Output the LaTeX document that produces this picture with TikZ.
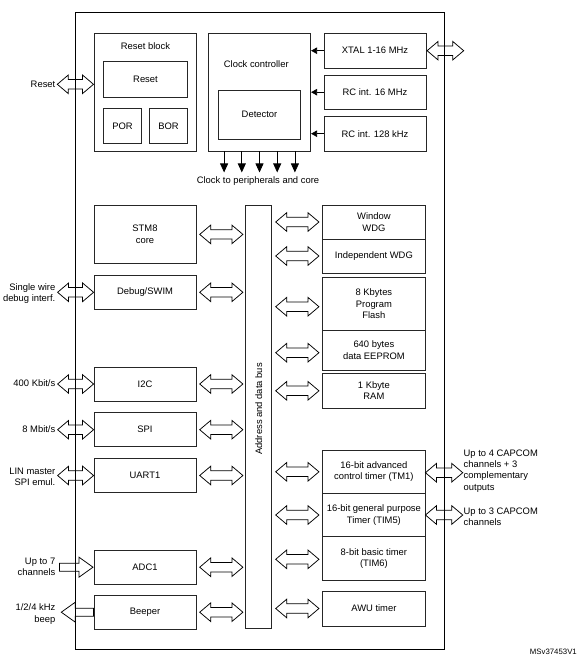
\documentclass[tikz,border=0pt]{standalone}
\usepackage{fontspec}
\setmainfont{Liberation Sans}
\usetikzlibrary{calc,arrows.meta}
\newcommand\arrHL{11pt}
\newcommand\arrHH{9.3pt}
\newcommand\arrSH{4.7pt}
\newcommand\sarrHL{14pt}
\newcommand\sarrHH{10pt}
\newcommand\sarrSH{4pt}
% double block arrow between two points (horizontal)
\newcommand\dblarr[2]{\draw[blk] let \p1=(#1), \p2=(#2), \p3=($(\p1)!\arrHL!(\p2)$), \p4=($(\p2)!\arrHL!(\p1)$) in
  (\x1,\y1) -- (\x3,\y1+\arrHH) -- (\x3,\y1+\arrSH) -- (\x4,\y1+\arrSH) -- (\x4,\y1+\arrHH) -- (\x2,\y1)
  -- (\x4,\y1-\arrHH) -- (\x4,\y1-\arrSH) -- (\x3,\y1-\arrSH) -- (\x3,\y1-\arrHH) -- cycle;}
% single block arrow from tail #1 to tip #2 (horizontal)
\newcommand\sarr[2]{\draw[blk] let \p1=(#1), \p2=(#2), \p3=($(\p2)!\sarrHL!(\p1)$) in
  (\x1,\y1+\sarrSH) -- (\x3,\y1+\sarrSH) -- (\x3,\y1+\sarrHH) -- (\x2,\y1) -- (\x3,\y1-\sarrHH)
  -- (\x3,\y1-\sarrSH) -- (\x1,\y1-\sarrSH) -- cycle;}
\begin{document}
\begin{tikzpicture}[x=1pt,y=-1pt,
  every node/.style={font=\fontsize{9.4}{11.3}\selectfont, inner sep=0pt, align=center},
  box/.style={draw=black!85, line width=0.8pt},
  blk/.style={draw=black, line width=0.75pt, line join=miter},
  carrow/.style={draw=black, line width=0.8pt, -{Triangle[length=9pt,width=8pt]}},
  sarrow/.style={draw=black, line width=0.8pt, -{Triangle[length=6pt,width=6.5pt]}},
  lbl/.style={anchor=east, align=right},
  rlbl/.style={anchor=west, align=left}]
\useasboundingbox (0,0) rectangle (579,659);
% chip outline
\node[draw=black, line width=0.9pt, minimum width=369, minimum height=637] (chip) at (259.5,330.5) {};
% reset block
\node[box, minimum width=102.4, minimum height=117.7] (rb) at (145.5,92.2) {};
\node (rbl) at (145.5,46.5) {Reset block};
\node[box, minimum width=84.4, minimum height=36.4] (rst) at (145.5,79.5) {Reset};
\node[box, minimum width=38.4, minimum height=35] (por) at (122.5,125.8) {POR};
\node[box, minimum width=38.4, minimum height=35] (bor) at (168.5,125.8) {BOR};
% clock controller
\node[box, minimum width=102.4, minimum height=117.7] (clk) at (259.5,92.2) {};
\node (clkl) at (256.3,64.3) {Clock controller};
\node[box, minimum width=82.4, minimum height=49, text depth=-3pt] (det) at (259.5,114.5) {Detector};
\node[box, minimum width=102, minimum height=34.7] (xtal) at (375,50.7) {XTAL 1-16 MHz};
\node[box, minimum width=102, minimum height=34.3] (rc16) at (375,92.2) {RC int. 16 MHz};
\node[box, minimum width=102, minimum height=34.7] (rc128) at (375,133.7) {RC int. 128 kHz};
\draw[sarrow] (xtal.west) -- (clk.east |- xtal.west);
\draw[sarrow] (rc16.west) -- (clk.east |- rc16.west);
\draw[sarrow] (rc128.west) -- (clk.east |- rc128.west);
\foreach \i in {-2,...,2} {\draw[carrow] ([xshift=\i*17.7pt]clk.south) -- ++(0,21);}
\node (clkout) at (258,181) {Clock to peripherals and core};
% bus
\node[box, minimum width=26, minimum height=423.3] (bus) at (258.7,416.7) {};
\node[rotate=90] (busl) at (258.7,409) {Address and data bus};
% left column
\node[box, minimum width=102, minimum height=58.7] (core) at (145,234.4) {STM8\\core};
\node[box, minimum width=102, minimum height=34] (dbg) at (145,292.3) {Debug/SWIM};
\node[box, minimum width=102, minimum height=34] (i2c) at (145,384) {I2C};
\node[box, minimum width=102, minimum height=34] (spi) at (145,429.7) {SPI};
\node[box, minimum width=102, minimum height=34.4] (uart) at (145,475.5) {UART1};
\node[box, minimum width=102, minimum height=34.3] (adc) at (145,567.2) {ADC1};
\node[box, minimum width=102, minimum height=34.3] (beep) at (145,612.2) {Beeper};
% right column
\node[box, minimum width=102.3, minimum height=34] (wwdg) at (373.9,222) {Window\\WDG};
\node[box, minimum width=102.3, minimum height=34] (iwdg) at (373.9,256) {Independent WDG};
\node[box, minimum width=102.3, minimum height=53] (flash) at (373.9,303.8) {8 Kbytes\\Program\\Flash};
\node[box, minimum width=102.3, minimum height=39.7] (eep) at (373.9,350.2) {640 bytes\\data EEPROM};
\node[box, minimum width=102.3, minimum height=35] (ram) at (373.9,390.8) {1 Kbyte\\RAM};
\node[box, minimum width=102.3, minimum height=43] (tim1) at (373.9,471.8) {16-bit advanced\\control timer (TM1)};
\node[box, minimum width=102.3, minimum height=43.4] (tim5) at (373.9,515) {16-bit general purpose\\Timer (TIM5)};
\node[box, minimum width=102.3, minimum height=43.3] (tim6) at (373.9,558.4) {8-bit basic timer\\(TIM6)};
\node[box, minimum width=102.3, minimum height=35] (awu) at (373.9,608.5) {AWU timer};
% bus arrows, left side
\foreach \bx in {core,dbg,i2c,spi,uart,adc,beep}
  {\dblarr{[xshift=3.3pt]\bx.east}{[xshift=-2.4pt]bus.west |- \bx.east}}
% bus arrows, right side
\foreach \bx/\dy in {wwdg/0,iwdg/0,flash/-2.9,eep/-2.5,ram/0,tim1/0,tim5/0,tim6/-0.9,awu/0}
  {\dblarr{[xshift=3.6pt,yshift=\dy pt]bus.east |- \bx.west}{[xshift=-3.4pt]\bx.west}}
% external arrows
\coordinate (pReset) at (57.3,84.3);
\dblarr{pReset}{[xshift=-0.4pt]rb.west |- pReset}
\foreach \bx in {dbg,i2c,spi,uart}
  {\dblarr{[xshift=-36pt]\bx.west}{\bx.west}}
\sarr{[xshift=-34pt]adc.west}{[xshift=-0.6pt]adc.west}
\sarr{beep.west}{[xshift=-32.3pt]beep.west}
\dblarr{[xshift=0.7pt]xtal.east}{[xshift=37.3pt]xtal.east}
\dblarr{[yshift=-0.9pt]tim1.east}{[xshift=37.3pt]tim1.east}
\dblarr{tim5.east}{[xshift=37.3pt]tim5.east}
% labels
\node[lbl] (lReset) at (55.5,84.3) {Reset};
\node[lbl] (lDbg) at (55.5,293.5) {Single wire\\debug interf.};
\node[lbl] (lI2c) at (55.5,382.7) {400 Kbit/s};
\node[lbl] (lSpi) at (55.5,429) {8 Mbit/s};
\node[lbl] (lUart) at (55.5,476.8) {LIN master\\SPI emul.};
\node[lbl] (lAdc) at (55.5,567) {Up to 7\\channels};
\node[lbl] (lBeep) at (55.5,614.2) {1/2/4 kHz\\beep};
\node[rlbl] (lTim1) at (463.5,471) {Up to 4 CAPCOM\\channels + 3\\complementary\\outputs};
\node[rlbl] (lTim5) at (463.5,517) {Up to 3 CAPCOM\\channels};
\node[anchor=east, font=\fontsize{7.8}{9}\selectfont] (ref) at (577,652) {MSv37453V1};
\end{tikzpicture}
\end{document}
